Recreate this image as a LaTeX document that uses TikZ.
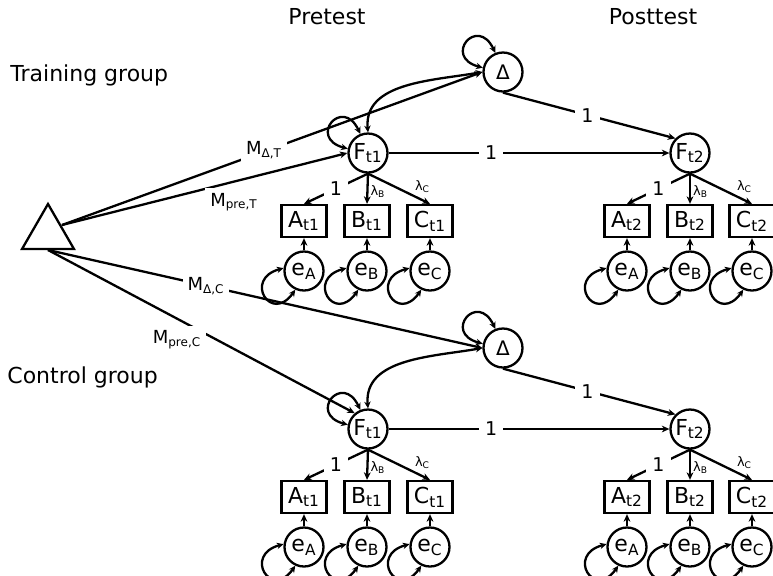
\documentclass[tikz,border=0pt]{standalone}
\usepackage{fontspec}
\setmainfont{DejaVu Sans}
\usetikzlibrary{arrows.meta,shapes.geometric,calc}
\newcommand{\sbs}[1]{\textsubscript{#1}}
\begin{document}
\begin{tikzpicture}[x=0.5pt,y=0.5pt,
  every node/.style={font=\fontsize{11}{13}\selectfont},
  lat/.style={draw,circle,line width=1.15pt,minimum size=19.5pt,inner sep=0pt},
  obs/.style={draw,rectangle,line width=1.15pt,minimum width=22.5pt,minimum height=16pt,inner sep=0pt},
  conn/.style={line width=1.15pt,-{Stealth[length=3.8pt,width=3.4pt]}},
  var/.style={line width=1.15pt,{Stealth[length=3.4pt,width=3.2pt]}-{Stealth[length=3.4pt,width=3.2pt]}},
  lbl/.style={fill=white,inner sep=3pt,font=\fontsize{9.5}{11}\selectfont},
  mlbl/.style={fill=white,inner sep=2.5pt,font=\fontsize{9}{11}\selectfont},
  lam/.style={inner sep=0.5pt,font=\fontsize{6.5}{8}\selectfont},
  head/.style={inner sep=0pt,font=\fontsize{11}{13}\selectfont}
]
\useasboundingbox (0,0) rectangle (773,-575);

% headings
\node[head] (pre) at (327,-17) {Pretest};
\node[head] (post) at (653,-17) {Posttest};
\node[head,anchor=west] (tg) at (10,-75) {Training group};
\node[head,anchor=west] (cg) at (7,-377) {Control group};

% mean triangle
\node[draw,regular polygon,regular polygon sides=3,minimum size=30pt,inner sep=0pt,line width=1.15pt] (tri) at (48,-234) {};
\coordinate (tu) at (62,-225);
\coordinate (tl) at (48,-250);

\foreach \g/\o in {T/0,C/276} {
  \node[lat] (D\g) at (503,{-72-\o}) {\fontsize{10}{11}\selectfont Δ};
  \node[lat] (Fa\g) at (368,{-153-\o}) {F\sbs{t1}};
  \node[lat] (Fb\g) at (690,{-153-\o}) {F\sbs{t2}};
  \foreach \ob/\xa/\xb in {A/304/627,B/367/690,C/430/752} {
    \node[obs] (\ob a\g) at (\xa,{-221-\o}) {\ob\sbs{t1}};
    \node[lat] (e\ob a\g) at (\xa,{-271-\o}) {e\sbs{\ob}};
    \node[obs] (\ob b\g) at (\xb,{-221-\o}) {\ob\sbs{t2}};
    \node[lat] (e\ob b\g) at (\xb,{-271-\o}) {e\sbs{\ob}};
    \draw[conn] (e\ob a\g) -- (\ob a\g);
    \draw[conn] (e\ob b\g) -- (\ob b\g);
    \draw[var] (e\ob a\g.245) .. controls +(235:42) and +(195:42) .. (e\ob a\g.172);
    \draw[var] (e\ob b\g.245) .. controls +(235:42) and +(195:42) .. (e\ob b\g.172);
  }
  \foreach \t in {a,b} {
    \draw[conn] (F\t\g.south) -- (A\t\g.north) node[lbl,pos=0.5] {1};
    \draw[conn] (F\t\g.south) -- (B\t\g.north) node[lam,pos=0.6,right=0.5pt] {λ\sbs{B}};
    \draw[conn] (F\t\g.south) -- (C\t\g.north) node[lam,pos=0.88,above=2.5pt] {λ\sbs{C}};
  }
  \draw[conn] (Fa\g) -- (Fb\g) node[lbl,pos=0.365] {1};
  \draw[conn] (D\g.south) -- (Fb\g.135) node[lbl,pos=0.49] {1};
  \draw[var] (Fa\g.north) to[out=95,in=190] (D\g.west);
  \draw[var] (D\g.168) .. controls +(165:42) and +(115:42) .. (D\g.112);
  \draw[var] (Fa\g.168) .. controls +(165:42) and +(115:42) .. (Fa\g.112);
}

% mean paths
\draw[conn] (tu) -- (DT.west);
\draw[conn] (tu) -- (FaT.west);
\draw[conn] (tl) -- (DC.west);
\draw[conn] (tl) -- (FaC.130);
\node[mlbl] (mdt) at (264,-150) {M\sbs{Δ,T}};
\node[mlbl] (mpt) at (234,-202) {M\sbs{pre,T}};
\node[mlbl] (mdc) at (206,-286) {M\sbs{Δ,C}};
\node[mlbl] (mpc) at (177,-340) {M\sbs{pre,C}};
\end{tikzpicture}
\end{document}
